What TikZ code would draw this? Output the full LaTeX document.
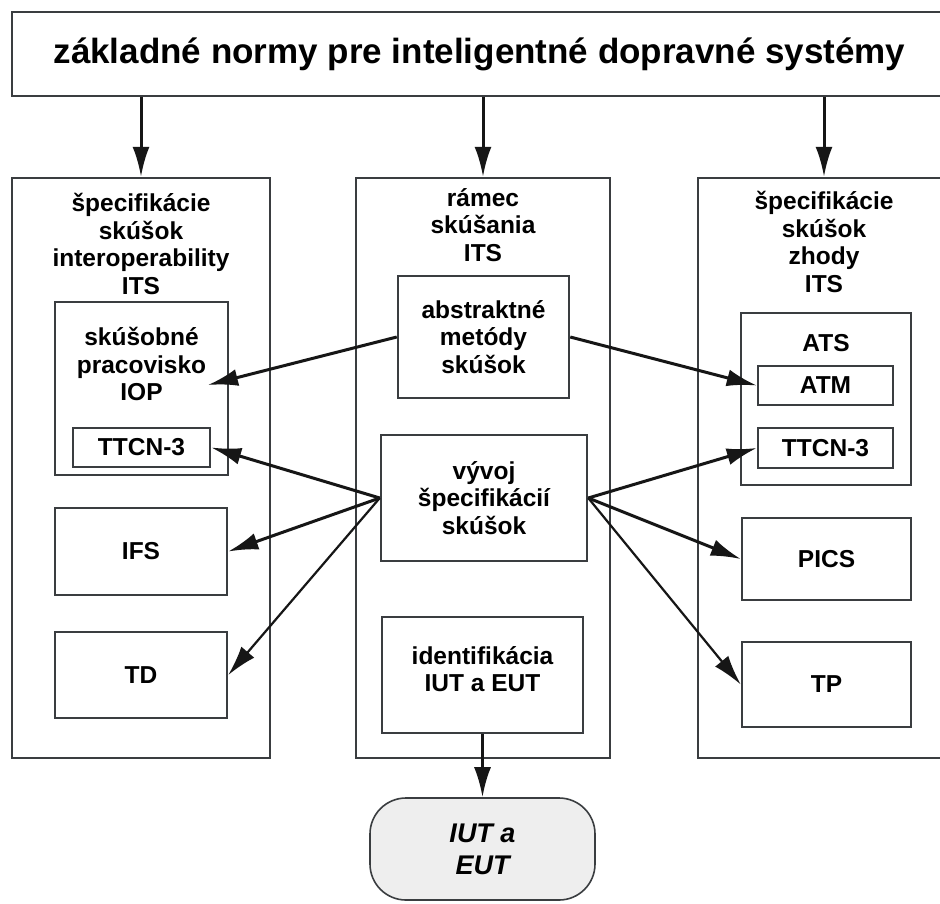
\documentclass[tikz,border=0pt]{standalone}
\usepackage{fontspec}
\setmainfont{Liberation Sans}
\usetikzlibrary{arrows.meta}
\definecolor{boxgray}{HTML}{3A3D40}
\definecolor{arrowblack}{HTML}{161616}
\definecolor{termfill}{HTML}{EEEEEE}
\begin{document}
\begin{tikzpicture}[x=1pt,y=-1pt,
  frame/.style={draw=boxgray, line width=2.5pt, fill=white, inner sep=0pt},
  lbl/.style={font=\fontsize{24.5}{27.5}\selectfont\bfseries, align=center, inner sep=0pt, text=black},
  conn/.style={draw=arrowblack, line width=3pt, -{Latex[length=30pt,width=17pt]}},
  thinconn/.style={conn, line width=2.2pt},
  terminal/.style={draw=boxgray, line width=1.6pt, fill=termfill, rounded corners=36pt, inner sep=0pt,
    font=\fontsize{27}{32}\selectfont\bfseries\itshape, align=center},
]
\useasboundingbox (0,0) rectangle (940,903);
\clip (0,0) rectangle (940,903);
\fill[white] (0,0) rectangle (940,903);

% top bar
\node[frame, minimum width=935pt, minimum height=84pt,
      font=\fontsize{35}{40}\selectfont\bfseries] (title) at (479.5,54)
  {základné normy pre inteligentné dopravné systémy};

% three columns
\node[frame, minimum width=258pt, minimum height=580pt] (colL) at (141,468) {};
\node[frame, minimum width=254pt, minimum height=580pt] (colC) at (483,468) {};
\node[frame, minimum width=252pt, minimum height=580pt] (colR) at (824,468) {};

\node[lbl] (hL) at (141,244) {špecifikácie\\skúšok\\interoperability\\ITS};
\node[lbl] (hC) at (483,225) {rámec\\skúšania\\ITS};
\node[lbl] (hR) at (824,242) {špecifikácie\\skúšok\\zhody\\ITS};

% left column
\node[frame, minimum width=173pt, minimum height=173pt] (iop) at (141.5,388.5) {};
\node[lbl] (iopt) at (141.5,364) {skúšobné\\pracovisko\\IOP};
\node[frame, lbl, minimum width=137pt, minimum height=39pt] (ttcnL) at (141.5,447.5) {TTCN-3};
\node[frame, lbl, minimum width=172pt, minimum height=87pt] (ifs) at (141,551.5) {IFS};
\node[frame, lbl, minimum width=172pt, minimum height=86pt] (td) at (141,675) {TD};
\coordinate (iopin) at (208,385);

% centre column
\node[frame, lbl, minimum width=171pt, minimum height=122pt] (abs) at (483.5,337) {abstraktné\\metódy\\skúšok};
\node[frame, lbl, minimum width=206pt, minimum height=126pt] (vyv) at (484,498) {vývoj\\špecifikácií\\skúšok};
\node[frame, minimum width=201pt, minimum height=116pt] (idf) at (482.5,675) {};
\node[lbl] (idft) at (482.5,669) {identifikácia\\IUT a EUT};

% right column
\node[frame, minimum width=170pt, minimum height=172pt] (ats) at (826,399) {};
\node[lbl] (atst) at (826,343) {ATS};
\node[frame, lbl, minimum width=135pt, minimum height=39pt] (atm) at (825.5,385.5) {ATM};
\node[frame, lbl, minimum width=135pt, minimum height=40pt] (ttcnR) at (825.5,448) {TTCN-3};
\node[frame, lbl, minimum width=169pt, minimum height=82pt] (pics) at (826.5,559) {PICS};
\node[frame, lbl, minimum width=169pt, minimum height=85pt] (tp) at (826.5,684.5) {TP};

% result
\node[terminal, minimum width=225pt, minimum height=102pt] (iut) at (482.5,849) {IUT a\\EUT};

% connectors
\draw[conn] (colL.north |- title.south) -- (colL.north);
\draw[conn] (colC.north |- title.south) -- (colC.north);
\draw[conn] (colR.north |- title.south) -- (colR.north);

\draw[conn] (abs.west) -- (iopin);
\draw[conn] (abs.east) -- (atm.west);

\draw[conn] (vyv.west) -- (ttcnL.east);
\draw[conn] (vyv.west) -- (ifs.east);
\draw[thinconn] (vyv.west) -- (td.east);
\draw[conn] (vyv.east) -- (ttcnR.west);
\draw[conn] (vyv.east) -- (pics.west);
\draw[thinconn] (vyv.east) -- (tp.west);

\draw[conn] (idf.south) -- (iut.north);
\end{tikzpicture}
\end{document}
